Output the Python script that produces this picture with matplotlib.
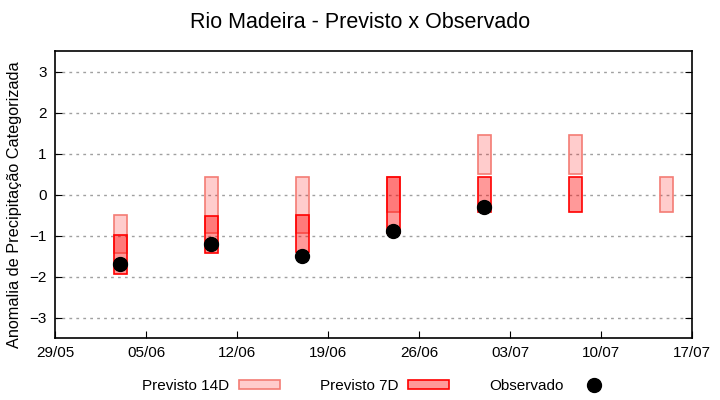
import datetime as dt
import matplotlib
matplotlib.use('Agg')
import matplotlib.pyplot as plt
import matplotlib.dates as mdates
from matplotlib.patches import Patch
from matplotlib.lines import Line2D

plt.rcParams['font.family'] = ['Liberation Sans', 'DejaVu Sans']

# dados
datas = ['2023-06-03', '2023-06-10', '2023-06-17', '2023-06-24',
         '2023-07-01', '2023-07-08', '2023-07-15']
p14_min = [-1.42, -0.94, -0.94, -0.43, 0.51, 0.51, -0.43]
p14_max = [-0.50, 0.44, 0.44, 0.44, 1.45, 1.45, 0.44]
p7_min = [-1.93, -1.42, -1.40, -0.94, -0.43, -0.43, None]
p7_max = [-0.98, -0.51, -0.50, 0.44, 0.44, 0.44, None]
obs = [-1.69, -1.20, -1.50, -0.88, -0.30, None, None]

ticks = ['2023-05-29', '2023-06-05', '2023-06-12', '2023-06-19',
         '2023-06-26', '2023-07-03', '2023-07-10', '2023-07-17']

x = [mdates.date2num(dt.date.fromisoformat(d)) for d in datas]
xt = [mdates.date2num(dt.date.fromisoformat(d)) for d in ticks]

fig = plt.figure(figsize=(7.2, 4.0), dpi=100)
ax = fig.add_axes([55 / 720, 1 - 338 / 400, (692 - 55) / 720, (338 - 51.5) / 400])

larg = 1.0
c14_face = (1, 0, 0, 0.2)
c14_edge = '#f47c74'
c7_face = (1, 0, 0, 0.4)
c7_edge = '#ff0000'

for xi, lo, hi in zip(x, p14_min, p14_max):
    ax.bar(xi, hi - lo, bottom=lo, width=larg, color=c14_face,
           edgecolor=c14_edge, linewidth=1.2, zorder=2)
for xi, lo, hi in zip(x, p7_min, p7_max):
    if lo is None:
        continue
    ax.bar(xi, hi - lo, bottom=lo, width=larg, color=c7_face,
           edgecolor=c7_edge, linewidth=1.2, zorder=3)

xo = [xi for xi, o in zip(x, obs) if o is not None]
yo = [o for o in obs if o is not None]
ax.plot(xo, yo, 'o', color='black', ms=10, zorder=4, linestyle='none')

ax.set_xlim(xt[0], xt[-1])
ax.set_ylim(-3.5, 3.5)
ax.set_xticks(xt)
ax.xaxis.set_major_formatter(mdates.DateFormatter('%d/%m'))
ax.set_yticks([-3, -2, -1, 0, 1, 2, 3])
ax.tick_params(direction='in', length=5, labelsize=11, colors='black',
               right=True, top=False, pad=6)
ax.grid(axis='y', color='#a0a0a0', linestyle=(0, (2, 3)), linewidth=1, zorder=1)
for s in ax.spines.values():
    s.set_linewidth(1.2)

ax.set_ylabel('Anomalia de Precipitação Categorizada', fontsize=11.7)
ax.yaxis.set_label_coords(-0.052, 0.465)
fig.suptitle('Rio Madeira - Previsto x Observado', fontsize=15.5, y=0.97)

h14 = Patch(facecolor=c14_face, edgecolor=c14_edge, linewidth=1.2)
h7 = Patch(facecolor=c7_face, edgecolor=c7_edge, linewidth=1.2)
hobs = Line2D([], [], marker='o', color='black', ms=10, linestyle='none')
fig.legend([h14, h7, hobs], ['Previsto 14D', 'Previsto 7D', 'Observado'],
           loc='center', bbox_to_anchor=(378 / 720, 1 - 386 / 400), ncol=3,
           markerfirst=False, frameon=False, fontsize=11,
           handlelength=2.7, handleheight=0.45, handletextpad=0.65,
           columnspacing=2.6)

fig.savefig('out.png', dpi=100)
